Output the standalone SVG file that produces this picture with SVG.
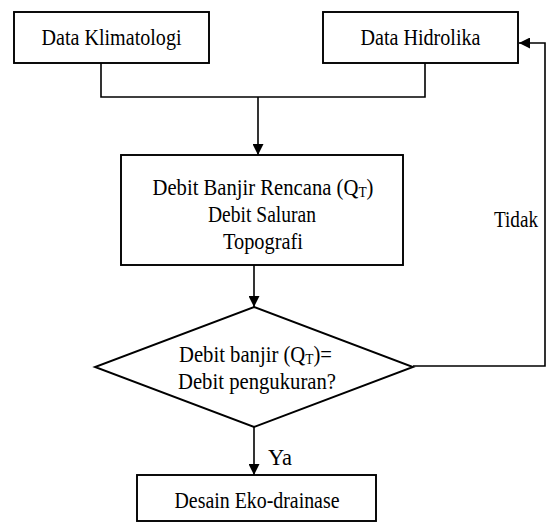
<svg xmlns="http://www.w3.org/2000/svg" width="547" height="522" viewBox="0 0 547 522">
<style>
  .box { fill: #fff; stroke: #000; stroke-width: 1.9; }
  .conn { fill: none; stroke: #000; stroke-width: 1.6; }
  .t { font-family: 'Liberation Serif', 'Times New Roman', serif; font-size: 23px; fill: #000; }
  .sub { font-size: 15px; }
</style>
<defs>
  <marker id="arrow" markerUnits="userSpaceOnUse" markerWidth="11" markerHeight="11" refX="11" refY="5.5" orient="auto">
    <path d="M0,0 L11,5.5 L0,11 z" fill="#000"/>
  </marker>
</defs>
<rect width="547" height="522" fill="#fff"/>
<g id="connectors">
  <path class="conn" d="M101,63 V97 H425 V63"/>
  <path class="conn" d="M258,97 V155" marker-end="url(#arrow)"/>
  <path class="conn" d="M254,265 V307" marker-end="url(#arrow)"/>
  <path class="conn" d="M254,427 V475" marker-end="url(#arrow)"/>
  <path class="conn" d="M413,366 H545 V43 H519" marker-end="url(#arrow)"/>
  <text class="t" x="494" y="227" textLength="44" lengthAdjust="spacingAndGlyphs">Tidak</text>
  <text class="t" x="268" y="465" textLength="24" lengthAdjust="spacingAndGlyphs">Ya</text>
</g>
<g id="data-klimatologi">
  <rect class="box" x="14" y="12" width="195" height="51"/>
  <text class="t" x="41.5" y="45" textLength="140" lengthAdjust="spacingAndGlyphs">Data Klimatologi</text>
</g>
<g id="data-hidrolika">
  <rect class="box" x="323" y="12" width="195" height="51"/>
  <text class="t" x="360.5" y="45" textLength="120" lengthAdjust="spacingAndGlyphs">Data Hidrolika</text>
</g>
<g id="debit-banjir-rencana">
  <rect class="box" x="121" y="155" width="282" height="110"/>
  <text class="t" x="152.5" y="195" textLength="221" lengthAdjust="spacingAndGlyphs">Debit Banjir Rencana (Q<tspan class="sub" baseline-shift="-2">T</tspan>)</text>
  <text class="t" x="208" y="222" textLength="108" lengthAdjust="spacingAndGlyphs">Debit Saluran</text>
  <text class="t" x="223" y="249" textLength="80" lengthAdjust="spacingAndGlyphs">Topografi</text>
</g>
<g id="decision">
  <polygon class="box" points="254,307 413,367 254,427 95,367"/>
  <text class="t" x="179" y="362" textLength="153" lengthAdjust="spacingAndGlyphs">Debit banjir (Q<tspan class="sub" baseline-shift="-2">T</tspan>)=</text>
  <text class="t" x="178" y="389" textLength="158" lengthAdjust="spacingAndGlyphs">Debit pengukuran?</text>
</g>
<g id="desain-eko-drainase">
  <rect class="box" x="137" y="475" width="239" height="46"/>
  <text class="t" x="174.5" y="508" textLength="165" lengthAdjust="spacingAndGlyphs">Desain Eko-drainase</text>
</g>
</svg>
